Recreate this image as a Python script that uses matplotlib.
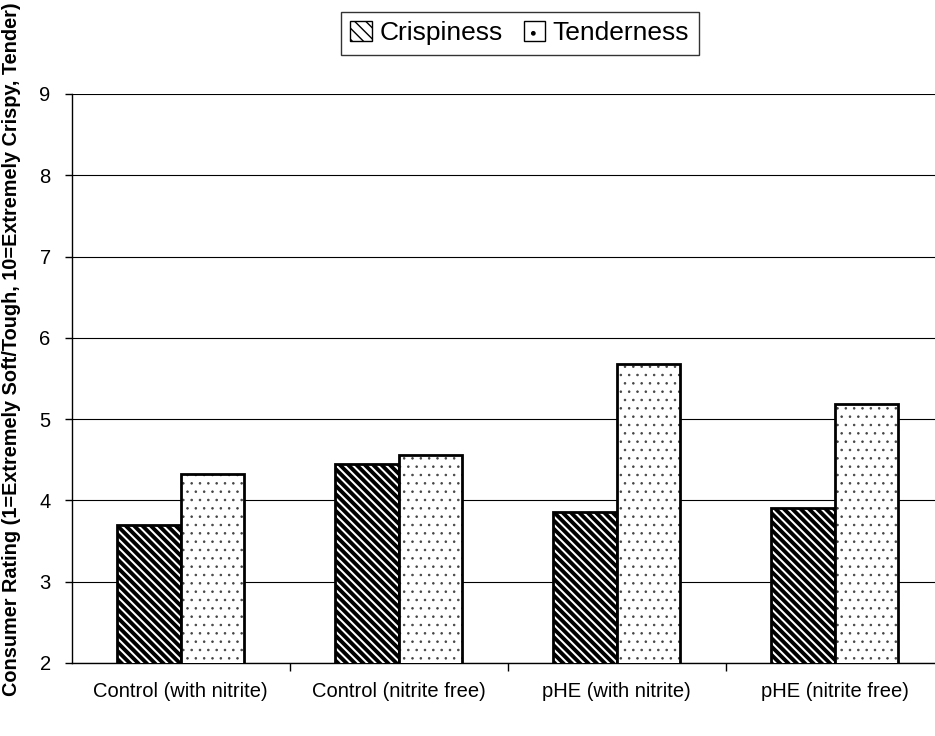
import matplotlib
matplotlib.use("Agg")
import matplotlib.pyplot as plt
from matplotlib.patches import Patch
import numpy as np

plt.rcParams['font.family'] = ['Liberation Sans', 'DejaVu Sans']

categories = ["Control (with nitrite)", "Control (nitrite free)", "pHE (with nitrite)", "pHE (nitrite free)"]
crispiness = [3.70, 4.45, 3.86, 3.91]
tenderness = [4.32, 4.56, 5.68, 5.19]
series_names = ["Crispiness", "Tenderness"]
yticks = [2, 3, 4, 5, 6, 7, 8, 9]

fig = plt.figure(figsize=(9.35, 7.36), dpi=100)
ax = fig.add_axes([0.0765, 0.0992, 0.9326, 0.7731])

x = np.arange(len(categories))
w = 0.29

with plt.rc_context({'hatch.linewidth': 2.8}):
    b1 = ax.bar(x - w/2, crispiness, w, bottom=0, facecolor='white', edgecolor='black',
                hatch='\\\\\\\\', linewidth=2, zorder=3)
with plt.rc_context({'hatch.linewidth': 0.6}):
    b2 = ax.bar(x + w/2, tenderness, w, bottom=0, facecolor='white', edgecolor='#444444',
                hatch='..', linewidth=0, zorder=3)
ax.bar(x + w/2, tenderness, w, fill=False, edgecolor='black', linewidth=2, zorder=4)

ax.set_ylim(2, 9)
ax.set_xlim(-0.5, 3.5)
ax.set_yticks(yticks)
ax.set_yticklabels([str(v) for v in yticks], fontsize=14.5)
ax.yaxis.grid(True, color='black', linewidth=0.8, zorder=0)
ax.set_axisbelow(True)

ax.set_xticks(np.arange(0.5, 3.5, 1.0))
ax.set_xticklabels([])
ax.set_xticks(x, minor=True)
ax.set_xticklabels(categories, minor=True, fontsize=14.5)
ax.tick_params(axis='x', which='major', direction='out', length=6, width=1)
ax.tick_params(axis='x', which='minor', length=0, pad=14)
ax.tick_params(axis='y', direction='out', length=5, width=1, pad=10)

for s in ['top', 'right']:
    ax.spines[s].set_visible(False)
for s in ['left', 'bottom']:
    ax.spines[s].set_color('black')
    ax.spines[s].set_linewidth(1)

ax.set_ylabel("Consumer Rating (1=Extremely Soft/Tough, 10=Extremely Crispy, Tender)",
              fontsize=14.3, fontweight='bold')
ax.yaxis.set_label_coords(-0.058, 0.552)

with plt.rc_context({'hatch.linewidth': 1.5}):
    h1 = Patch(facecolor='white', edgecolor='black', hatch='\\\\\\', linewidth=1)
with plt.rc_context({'hatch.linewidth': 0.6}):
    h2 = Patch(facecolor='white', edgecolor='black', hatch='.', linewidth=1)
leg = fig.legend([h1, h2], series_names, loc='upper center', bbox_to_anchor=(0.556, 0.984),
                 ncol=2, fontsize=19, frameon=True, fancybox=False, edgecolor='black',
                 handlelength=0.8, handleheight=0.8, handletextpad=0.3, columnspacing=0.8,
                 borderpad=0.35, borderaxespad=0)
leg.get_frame().set_linewidth(1)

fig.savefig("out.png", dpi=100)
